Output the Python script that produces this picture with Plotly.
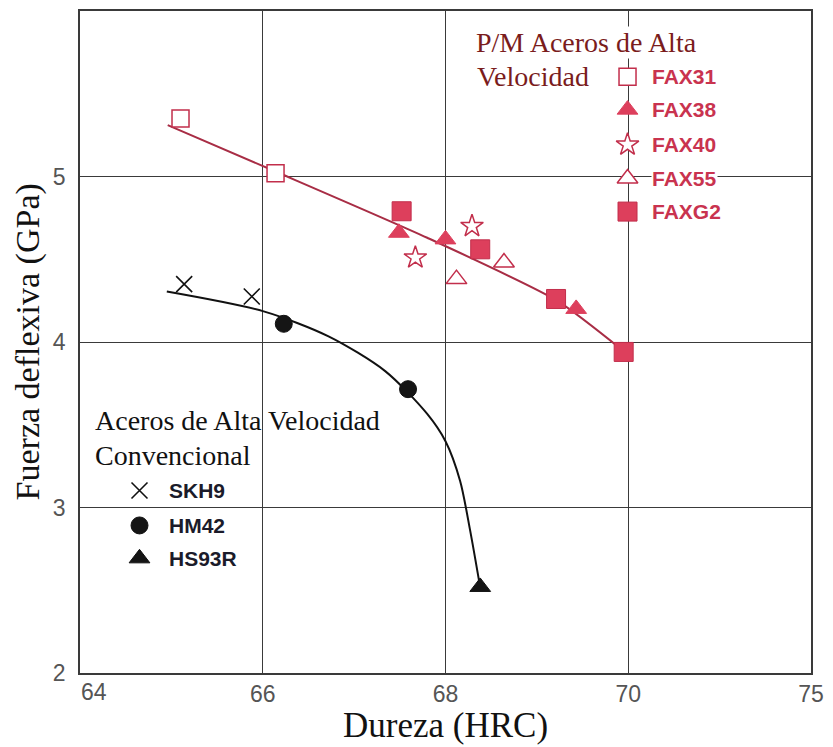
import numpy as np
import plotly.graph_objects as go

# ---------------- data ----------------
# x axis (Dureza, HRC) uses a non-uniform scale: ticks evenly spaced
x_ticks_hrc = [64, 66, 68, 70, 75]
x_tick_labels = ["64", "66", "68", "70", "75"]
y_ticks = [2, 3, 4, 5]
y_tick_labels = ["2", "3", "4", "5"]

# P/M Aceros de Alta Velocidad
fax31_x = [65.10, 66.14]
fax31_y = [5.35, 5.02]
fax38_x = [67.49, 68.00, 69.43]
fax38_y = [4.66, 4.62, 4.20]
fax40_x = [67.67, 68.29]
fax40_y = [4.51, 4.70]
fax55_x = [68.12, 68.64]
fax55_y = [4.38, 4.48]
faxg2_x = [67.52, 68.38, 69.21, 69.95]
faxg2_y = [4.79, 4.56, 4.26, 3.94]
pm_trend_x = [64.96, 66.14, 67.80, 69.22, 69.96]
pm_trend_y = [5.31, 5.03, 4.63, 4.25, 3.94]

# Aceros de Alta Velocidad Convencional
skh9_x = [65.14, 65.88]
skh9_y = [4.35, 4.275]
hm42_x = [66.23, 67.59]
hm42_y = [4.11, 3.715]
hs93r_x = [68.38]
hs93r_y = [2.52]
conv_trend_x = [64.95, 66.01, 66.72, 67.34, 67.80, 68.00, 68.16, 68.27, 68.38]
conv_trend_y = [4.305, 4.185, 4.034, 3.824, 3.565, 3.40, 3.16, 2.86, 2.516]

pm_names = ["FAX31", "FAX38", "FAX40", "FAX55", "FAXG2"]
conv_names = ["SKH9", "HM42", "HS93R"]

# ---------------- scale ----------------
x_pos = list(range(len(x_ticks_hrc)))


def sx(vals):
    return np.interp(vals, x_ticks_hrc, x_pos)


# the first tick label sits to the right of the axis corner in the original,
# so it is drawn as a left-anchored label instead of a centred tick label
tick_text = [""] + x_tick_labels[1:]

# ---------------- styles ----------------
RED_FILL = "#DD3F5C"
RED_EDGE = "#C22E4B"
RED_LINE = "#A82D45"
RED_TEXT = "#C9334F"
TITLE_RED = "#7A1C1C"
BLACK = "#111111"
GRID = "#3a3a3a"
TICK_GREY = "#555555"
SERIF = "Liberation Serif, Times New Roman, serif"
SANS = "Liberation Sans, Arial, sans-serif"
NARROW = "Liberation Sans Narrow, Arial Narrow, Liberation Sans, sans-serif"

pm_styles = {
    "FAX31": dict(symbol="square", size=17, color="white", line=dict(color=RED_EDGE, width=1.5)),
    "FAX38": dict(symbol="triangle-up", size=18, color=RED_FILL, line=dict(color=RED_FILL, width=1)),
    "FAX40": dict(symbol="star", size=17, color="white", line=dict(color=RED_EDGE, width=1.5)),
    "FAX55": dict(symbol="triangle-up", size=18, color="white", line=dict(color=RED_EDGE, width=1.5)),
    "FAXG2": dict(symbol="square", size=19, color=RED_FILL, line=dict(color=RED_EDGE, width=1)),
}
conv_styles = {
    "SKH9": dict(symbol="x-thin-open", size=16, color=BLACK, line=dict(color=BLACK, width=1.6)),
    "HM42": dict(symbol="circle", size=17, color="#151515", line=dict(color=BLACK, width=1)),
    "HS93R": dict(symbol="triangle-up", size=18, color="#151515", line=dict(color=BLACK, width=1)),
}

fig = go.Figure()

# trend lines
fig.add_trace(go.Scatter(x=sx(pm_trend_x), y=pm_trend_y, mode="lines",
                         line=dict(color=RED_LINE, width=2, shape="spline", smoothing=0.6),
                         showlegend=False, hoverinfo="skip"))
fig.add_trace(go.Scatter(x=sx(conv_trend_x), y=conv_trend_y, mode="lines",
                         line=dict(color=BLACK, width=2, shape="spline", smoothing=0.8),
                         showlegend=False, hoverinfo="skip"))

pm_data = {"FAX31": (fax31_x, fax31_y), "FAX38": (fax38_x, fax38_y), "FAX40": (fax40_x, fax40_y),
           "FAX55": (fax55_x, fax55_y), "FAXG2": (faxg2_x, faxg2_y)}
conv_data = {"SKH9": (skh9_x, skh9_y), "HM42": (hm42_x, hm42_y), "HS93R": (hs93r_x, hs93r_y)}

for name in conv_names:
    xs, ys = conv_data[name]
    fig.add_trace(go.Scatter(x=sx(xs), y=ys, mode="markers", name=name,
                             marker=conv_styles[name], showlegend=False))
for name in pm_names:
    xs, ys = pm_data[name]
    fig.add_trace(go.Scatter(x=sx(xs), y=ys, mode="markers", name=name,
                             marker=pm_styles[name], showlegend=False))

# ---------------- in-plot legends (plot-area fractions) ----------------
pm_leg_x = 0.749
pm_leg_text_x = 0.781
pm_leg_y = [0.9006, 0.851, 0.798, 0.747, 0.697]
conv_leg_x = 0.0814
conv_leg_text_x = 0.1194
conv_leg_y = [0.2756, 0.2229, 0.1732]

for name, yy in zip(pm_names, pm_leg_y):
    fig.add_trace(go.Scatter(x=[pm_leg_x], y=[yy], xaxis="x2", yaxis="y2", mode="markers",
                             marker=pm_styles[name], showlegend=False, hoverinfo="skip"))
    fig.add_annotation(xref="paper", yref="paper", x=pm_leg_text_x, y=yy, text=name,
                       showarrow=False, xanchor="left", yanchor="middle",
                       font=dict(family=NARROW, size=21, color=RED_TEXT, weight="bold"),
                       bgcolor="white" if name == "FAX55" else None, borderpad=0)
for name, yy in zip(conv_names, conv_leg_y):
    fig.add_trace(go.Scatter(x=[conv_leg_x], y=[yy], xaxis="x2", yaxis="y2", mode="markers",
                             marker=conv_styles[name], showlegend=False, hoverinfo="skip"))
    fig.add_annotation(xref="paper", yref="paper", x=conv_leg_text_x, y=yy, text=name,
                       showarrow=False, xanchor="left", yanchor="middle",
                       font=dict(family=NARROW, size=21, color="#1b1b2a", weight="bold"))

fig.add_annotation(xref="paper", yref="paper", x=0.540, y=0.952, text="P/M Aceros de Alta",
                   showarrow=False, xanchor="left", yanchor="middle", bgcolor="white", borderpad=0,
                   font=dict(family=SERIF, size=28, color=TITLE_RED))
fig.add_annotation(xref="paper", yref="paper", x=0.540, y=0.9006, text="Velocidad",
                   showarrow=False, xanchor="left", yanchor="middle",
                   font=dict(family=SERIF, size=28, color=TITLE_RED))
fig.add_annotation(xref="paper", yref="paper", x=0.0176, y=0.381, text="Aceros de Alta Velocidad",
                   showarrow=False, xanchor="left", yanchor="middle",
                   font=dict(family=SERIF, size=28, color=BLACK))
fig.add_annotation(xref="paper", yref="paper", x=0.0176, y=0.328, text="Convencional",
                   showarrow=False, xanchor="left", yanchor="middle",
                   font=dict(family=SERIF, size=28, color=BLACK))

# first x tick label (left-anchored at the axis corner)
fig.add_annotation(xref="x", yref="paper", x=x_pos[0], y=-0.0286, text=x_tick_labels[0],
                   showarrow=False, xanchor="left", yanchor="middle", borderpad=0,
                   font=dict(family=SANS, size=23, color=TICK_GREY))

# axis titles
fig.add_annotation(xref="paper", yref="paper", x=0.5, y=-0.08, text="Dureza (HRC)",
                   showarrow=False, xanchor="center", yanchor="middle",
                   font=dict(family=SERIF, size=35, color=BLACK))
fig.add_annotation(xref="paper", yref="paper", x=-0.0706, y=0.5, text="Fuerza deflexiva (GPa)",
                   showarrow=False, xanchor="center", yanchor="middle", textangle=-90,
                   font=dict(family=SERIF, size=34, color=BLACK))

fig.update_layout(
    width=833, height=747,
    margin=dict(l=80, r=16, t=9, b=74),
    paper_bgcolor="white", plot_bgcolor="white",
    showlegend=False,
    xaxis=dict(range=[x_pos[0], x_pos[-1]], tickvals=x_pos, ticktext=tick_text,
               showgrid=True, gridcolor=GRID, gridwidth=1.2, zeroline=False,
               showline=True, mirror=True, linecolor=GRID, linewidth=1.5,
               ticks="", ticklabelstandoff=0,
               tickfont=dict(family=SANS, size=23, color=TICK_GREY)),
    yaxis=dict(range=[2, 6], tickvals=y_ticks, ticktext=y_tick_labels,
               showgrid=True, gridcolor=GRID, gridwidth=1.2, zeroline=False,
               showline=True, mirror=True, linecolor=GRID, linewidth=1.5,
               ticks="", ticklabelstandoff=8,
               tickfont=dict(family=SANS, size=23, color=TICK_GREY)),
    xaxis2=dict(overlaying="x", range=[0, 1], visible=False),
    yaxis2=dict(overlaying="y", range=[0, 1], visible=False),
)

fig.write_html("out.html")
